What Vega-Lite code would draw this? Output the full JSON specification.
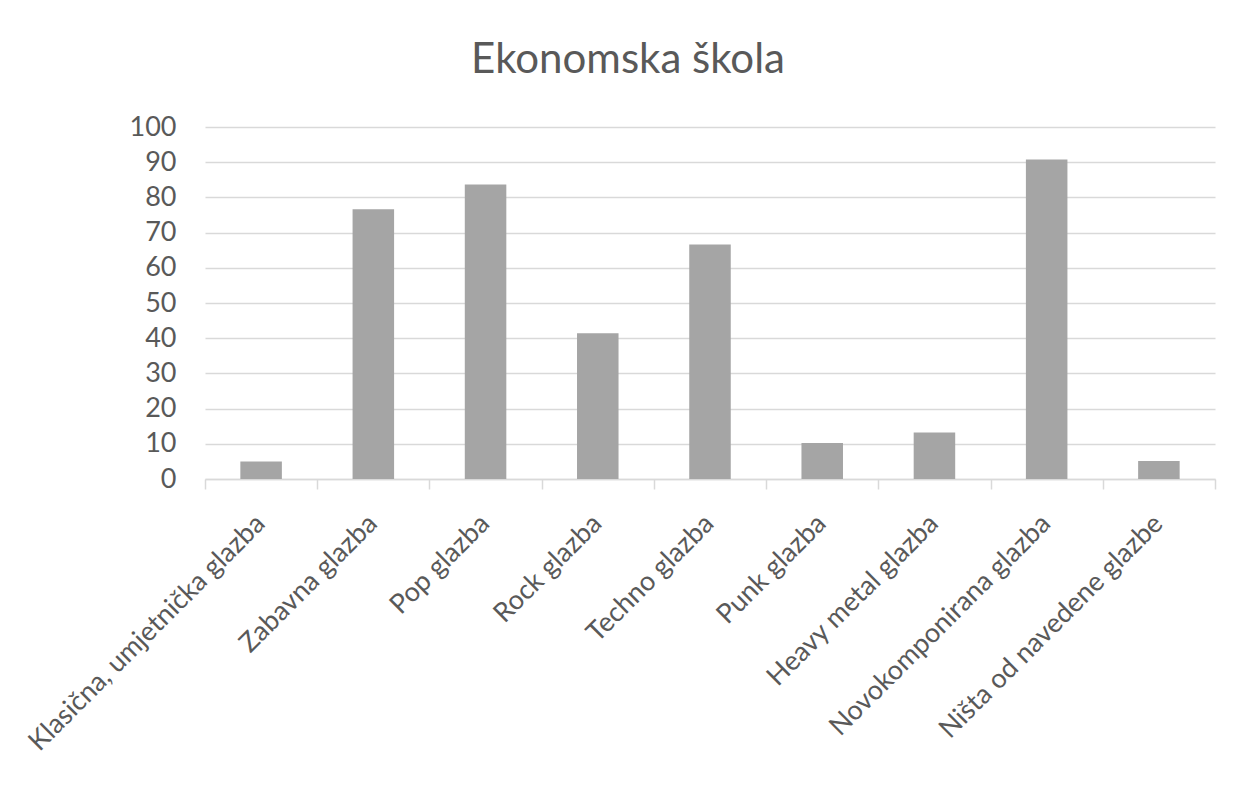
{
  "$schema": "https://vega.github.io/schema/vega-lite/v6.json",
  "width": 1010,
  "height": 352,
  "autosize": {"type": "none"},
  "padding": {"left": 205, "top": 127, "right": 32, "bottom": 315},
  "background": "white",
  "title": {
    "text": "Ekonomska škola",
    "anchor": "middle",
    "offset": 31,
    "dx": -82,
    "fontSize": 42,
    "font": "Lato",
    "fontWeight": "normal",
    "color": "#595959"
  },
  "data": {
    "values": [
      {"category": "Klasična, umjetnička glazba", "value": 5},
      {"category": "Zabavna glazba", "value": 76.6},
      {"category": "Pop glazba", "value": 83.7},
      {"category": "Rock glazba", "value": 41.4},
      {"category": "Techno glazba", "value": 66.6},
      {"category": "Punk glazba", "value": 10.2},
      {"category": "Heavy metal glazba", "value": 13.2},
      {"category": "Novokomponirana glazba", "value": 90.8},
      {"category": "Ništa od navedene glazbe", "value": 5.1}
    ]
  },
  "mark": {"type": "bar", "color": "#a5a5a5", "width": {"band": 0.37}},
  "encoding": {
    "x": {
      "field": "category",
      "type": "nominal",
      "sort": null,
      "scale": {"paddingInner": 0, "paddingOuter": 0},
      "axis": {
        "title": null,
        "labelAngle": -45,
        "labelAlign": "right",
        "labelBaseline": "top",
        "labelFont": "Lato",
        "labelFontSize": 27,
        "labelColor": "#595959",
        "labelPadding": 21,
        "labelOffset": -10,
        "labelLimit": 600,
        "tickBand": "extent",
        "tickColor": "#d9d9d9",
        "tickWidth": 1.5,
        "tickSize": 10,
        "domainColor": "#d9d9d9",
        "domainWidth": 1.5,
        "grid": false
      }
    },
    "y": {
      "field": "value",
      "type": "quantitative",
      "scale": {"domain": [0, 100]},
      "axis": {
        "title": null,
        "values": [0, 10, 20, 30, 40, 50, 60, 70, 80, 90, 100],
        "labelFont": "Lato",
        "labelFontSize": 27,
        "labelColor": "#595959",
        "labelPadding": 29,
        "ticks": false,
        "domain": false,
        "grid": true,
        "gridColor": "#d9d9d9",
        "gridWidth": 1.5
      }
    }
  },
  "config": {"view": {"stroke": null}}
}
